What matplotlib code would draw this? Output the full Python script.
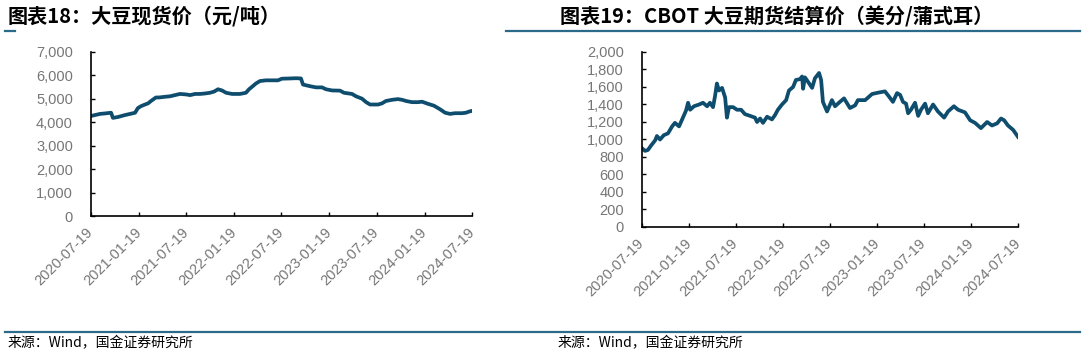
import pandas as pd
import matplotlib
matplotlib.use('Agg')
import matplotlib.pyplot as plt
import matplotlib.dates as mdates
from matplotlib.lines import Line2D
from matplotlib.ticker import FuncFormatter, MultipleLocator

# 大豆现货价（元/吨）
spot_dates = ['2020-07-19', '2020-08-03', '2020-08-23', '2020-09-11', '2020-10-04', '2020-10-11',
              '2020-10-31', '2020-11-26', '2020-12-16', '2021-01-04', '2021-01-15', '2021-01-27',
              '2021-02-11', '2021-02-23', '2021-03-06', '2021-03-25', '2021-04-06', '2021-04-29',
              '2021-05-18', '2021-06-06', '2021-06-25', '2021-07-18', '2021-08-03', '2021-08-22',
              '2021-09-10', '2021-09-29', '2021-10-18', '2021-11-03', '2021-11-18', '2021-12-03',
              '2021-12-19', '2022-01-11', '2022-02-10', '2022-03-05', '2022-03-17', '2022-03-28',
              '2022-04-13', '2022-04-28', '2022-05-21', '2022-06-13', '2022-07-06', '2022-07-21',
              '2022-08-21', '2022-09-13', '2022-10-02', '2022-10-10', '2022-11-06', '2022-11-29',
              '2022-12-22', '2023-01-06', '2023-01-29', '2023-03-01', '2023-03-16', '2023-04-16',
              '2023-05-01', '2023-05-24', '2023-06-09', '2023-06-24', '2023-07-25', '2023-08-09',
              '2023-08-24', '2023-09-16', '2023-10-09', '2023-10-25', '2023-11-09', '2023-12-02',
              '2023-12-25', '2024-01-09', '2024-02-01', '2024-02-24', '2024-03-18', '2024-04-07',
              '2024-04-26', '2024-05-15', '2024-06-11', '2024-06-26', '2024-07-08', '2024-07-19']
spot_price = [4260, 4300, 4350, 4370, 4400, 4180,
              4220, 4300, 4350, 4400, 4600, 4680,
              4750, 4800, 4900, 5050, 5050, 5080,
              5100, 5150, 5200, 5180, 5150, 5200,
              5200, 5220, 5250, 5300, 5400, 5350,
              5250, 5200, 5200, 5250, 5400, 5500,
              5650, 5750, 5780, 5780, 5780, 5850,
              5860, 5870, 5860, 5600, 5530, 5480,
              5480, 5400, 5350, 5340, 5250, 5200,
              5100, 5000, 4850, 4750, 4750, 4800,
              4900, 4950, 4980, 4950, 4900, 4850,
              4850, 4870, 4780, 4700, 4550, 4400,
              4350, 4380, 4380, 4400, 4450, 4480]

# CBOT 大豆期货结算价（美分/蒲式耳）
cbot_dates = ['2020-07-19', '2020-07-31', '2020-08-11', '2020-08-23', '2020-09-08', '2020-09-15',
              '2020-09-27', '2020-10-12', '2020-10-28', '2020-11-13', '2020-11-24', '2020-12-10',
              '2020-12-25', '2021-01-06', '2021-01-14', '2021-01-22', '2021-02-06', '2021-02-26',
              '2021-03-13', '2021-03-29', '2021-04-09', '2021-04-21', '2021-04-29', '2021-05-06',
              '2021-05-14', '2021-05-26', '2021-06-07', '2021-06-14', '2021-06-22', '2021-07-08',
              '2021-07-23', '2021-08-08', '2021-08-23', '2021-09-12', '2021-10-01', '2021-10-09',
              '2021-10-21', '2021-11-01', '2021-11-17', '2021-12-06', '2021-12-18', '2021-12-29',
              '2022-01-14', '2022-01-30', '2022-02-10', '2022-02-26', '2022-03-09', '2022-03-25',
              '2022-04-02', '2022-04-06', '2022-04-13', '2022-04-25', '2022-05-11', '2022-05-22',
              '2022-06-07', '2022-06-15', '2022-06-22', '2022-07-08', '2022-07-27', '2022-08-08',
              '2022-08-27', '2022-09-12', '2022-10-05', '2022-10-25', '2022-11-05', '2022-12-03',
              '2022-12-30', '2023-01-22', '2023-02-18', '2023-03-06', '2023-03-21', '2023-04-06',
              '2023-04-18', '2023-04-29', '2023-05-11', '2023-05-19', '2023-05-30', '2023-06-15',
              '2023-06-27', '2023-07-08', '2023-07-24', '2023-08-04', '2023-08-24', '2023-09-12',
              '2023-10-06', '2023-10-21', '2023-11-13', '2023-11-29', '2023-12-26', '2024-01-15',
              '2024-02-03', '2024-02-26', '2024-03-21', '2024-04-09', '2024-04-29', '2024-05-14',
              '2024-05-26', '2024-06-10', '2024-06-30', '2024-07-19']
cbot_price = [900, 870, 880, 930, 990, 1040,
              1000, 1050, 1070, 1150, 1190, 1150,
              1250, 1330, 1420, 1340, 1380, 1400,
              1420, 1380, 1420, 1370, 1500, 1640,
              1560, 1590, 1480, 1250, 1370, 1370,
              1340, 1340, 1290, 1270, 1250, 1200,
              1240, 1190, 1260, 1230, 1280, 1340,
              1400, 1450, 1560, 1600, 1680, 1690,
              1720, 1580, 1710, 1660, 1590, 1700,
              1760, 1680, 1430, 1320, 1450, 1380,
              1430, 1470, 1360, 1390, 1450, 1450,
              1520, 1535, 1550, 1490, 1430, 1530,
              1510, 1430, 1410, 1300, 1340, 1420,
              1270, 1340, 1410, 1300, 1400, 1320,
              1250, 1320, 1380, 1340, 1310, 1220,
              1190, 1130, 1200, 1160, 1185, 1240,
              1220, 1160, 1110, 1030]

tick_dates = ['2020-07-19', '2021-01-19', '2021-07-19', '2022-01-19', '2022-07-19',
              '2023-01-19', '2023-07-19', '2024-01-19', '2024-07-19']

title_left = '图表18：大豆现货价（元/吨）'
title_right = '图表19：CBOT 大豆期货结算价（美分/蒲式耳）'
source_text = '来源：Wind，国金证券研究所'

line_color = '#0E4D6E'
rule_color = '#2C6A8A'
cjk = ['Noto Sans CJK SC', 'DejaVu Sans']

W, H = 1086, 356
fig = plt.figure(figsize=(W / 100, H / 100), dpi=100)


def px_rect(x0, y0, x1, y1):
    return [x0 / W, 1 - y1 / H, (x1 - x0) / W, (y1 - y0) / H]


def draw_panel(rect, dates, values, ymax, ystep):
    ax = fig.add_axes(rect)
    ax.plot(pd.to_datetime(dates), values, color=line_color, lw=2.7, solid_joinstyle='round')
    ax.set_xlim(pd.Timestamp(tick_dates[0]), pd.Timestamp(tick_dates[-1]))
    ax.set_ylim(0, ymax)
    ax.yaxis.set_major_locator(MultipleLocator(ystep))
    ax.yaxis.set_major_formatter(FuncFormatter(lambda v, p: f'{v:,.0f}'))
    ax.set_xticks(pd.to_datetime(tick_dates))
    ax.xaxis.set_major_formatter(mdates.DateFormatter('%Y-%m-%d'))
    for s in ['top', 'right']:
        ax.spines[s].set_visible(False)
    for s in ['left', 'bottom']:
        ax.spines[s].set_linewidth(1.2)
    ax.tick_params(axis='y', direction='in', length=3, width=1, pad=13,
                   labelsize=10.5, labelcolor='#767676')
    ax.tick_params(axis='x', direction='in', length=3, width=1, pad=10,
                   labelsize=10.5, labelcolor='#767676')
    for lab in ax.get_xticklabels():
        lab.set_rotation(45)
        lab.set_ha('right')
        lab.set_va('center')
        lab.set_rotation_mode('anchor')
    for lab in ax.get_xticklabels() + ax.get_yticklabels():
        lab.set_fontfamily('Liberation Sans')
    return ax


draw_panel(px_rect(91, 51.7, 472, 216), spot_dates, spot_price, 7000, 1000)
draw_panel(px_rect(642, 52, 1018, 227), cbot_dates, cbot_price, 2000, 200)

# titles
fig.text(8 / W, 1 - 16.5 / H, title_left, family=cjk, fontsize=14.5, fontweight='bold',
         ha='left', va='center')
fig.text(560 / W, 1 - 16.5 / H, title_right, family=cjk, fontsize=14.5, fontweight='bold',
         ha='left', va='center')

# rules under titles and above the source
fig.add_artist(Line2D([5 / W, 15 / W], [1 - 31 / H] * 2, color=rule_color, lw=1.6))
fig.add_artist(Line2D([506 / W, 1080 / W], [1 - 31 / H] * 2, color=rule_color, lw=1.6))
fig.add_artist(Line2D([5 / W, 1080 / W], [1 - 332 / H] * 2, color=rule_color, lw=1.6))

fig.text(8 / W, 1 - 343 / H, source_text, family=cjk, fontsize=10, ha='left', va='center')
fig.text(558 / W, 1 - 343 / H, source_text, family=cjk, fontsize=10, ha='left', va='center')

fig.savefig('out.png', dpi=100)
